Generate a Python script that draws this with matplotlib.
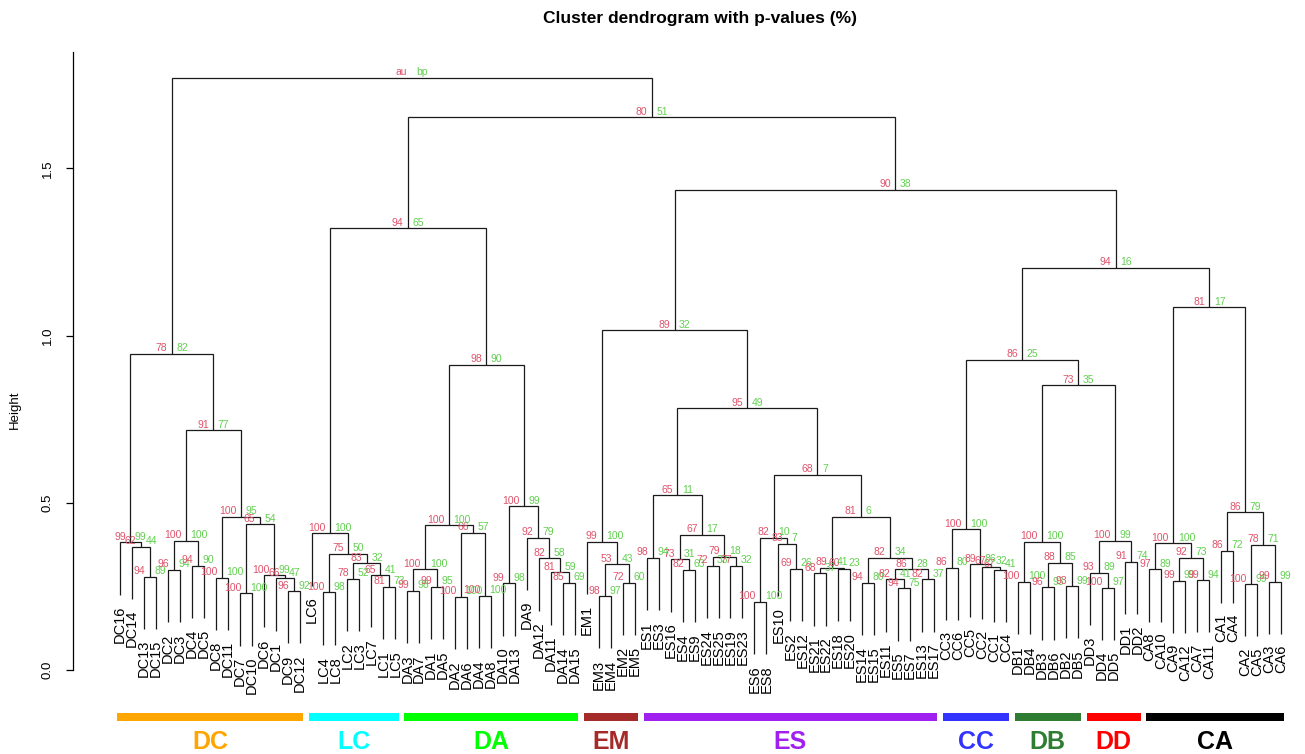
import matplotlib
matplotlib.use("Agg")
import matplotlib.pyplot as plt
from matplotlib import font_manager
from matplotlib.patches import Rectangle

# ---------------- data ----------------
# (node id, left child, right child, height, AU p-value, BP value)
DC_NODES = [
    ("dc1", "DC13", "DC15", 0.279, 94, 89),
    ("dc2", "DC14", "dc1", 0.369, 62, 44),
    ("dc3", "DC16", "dc2", 0.382, 99, 99),
    ("dc4", "DC2", "DC3", 0.299, 96, 94),
    ("dc5", "DC4", "DC5", 0.312, 94, 90),
    ("dc6", "dc4", "dc5", 0.387, 100, 100),
    ("dc7", "DC8", "DC11", 0.276, 100, 100),
    ("dc8", "DC7", "DC10", 0.229, 100, 100),
    ("dc9", "DC9", "DC12", 0.236, 96, 92),
    ("dc10", "DC1", "dc9", 0.274, 66, 47),
    ("dc11", "DC6", "dc10", 0.284, 100, 99),
    ("dc12", "dc8", "dc11", 0.435, 65, 54),
    ("dc13", "dc7", "dc12", 0.458, 100, 95),
    ("dc14", "dc6", "dc13", 0.717, 91, 77),
    ("dc15", "dc3", "dc14", 0.945, 78, 82),
]
LC_NODES = [
    ("lc1", "LC4", "LC8", 0.232, 100, 98),
    ("lc2", "LC1", "LC5", 0.249, 81, 73),
    ("lc3", "LC7", "lc2", 0.284, 65, 41),
    ("lc4", "LC2", "LC3", 0.273, 78, 52),
    ("lc5", "lc4", "lc3", 0.319, 83, 32),
    ("lc6", "lc1", "lc5", 0.347, 75, 50),
    ("lc7", "LC6", "lc6", 0.409, 100, 100),
]
DA_NODES = [
    ("da1", "DA3", "DA7", 0.237, 99, 98),
    ("da2", "DA1", "DA5", 0.249, 99, 95),
    ("da3", "da1", "da2", 0.301, 100, 100),
    ("da4", "DA2", "DA6", 0.219, 100, 100),
    ("da5", "DA4", "DA8", 0.222, 100, 100),
    ("da6", "da4", "da5", 0.411, 66, 57),
    ("da7", "da3", "da6", 0.433, 100, 100),
    ("da8", "DA10", "DA13", 0.259, 99, 98),
    ("da9", "DA14", "DA15", 0.261, 85, 69),
    ("da10", "DA11", "da9", 0.292, 81, 59),
    ("da11", "DA12", "da10", 0.334, 82, 58),
    ("da12", "DA9", "da11", 0.396, 92, 79),
    ("da13", "da8", "da12", 0.490, 100, 99),
    ("da14", "da7", "da13", 0.912, 98, 90),
]
EM_NODES = [
    ("em1", "EM3", "EM4", 0.221, 98, 97),
    ("em2", "EM2", "EM5", 0.261, 72, 60),
    ("em3", "em1", "em2", 0.316, 53, 43),
    ("em4", "EM1", "em3", 0.384, 99, 100),
]
ES_NODES = [
    ("es1", "ES1", "ES3", 0.336, 98, 94),
    ("es2", "ES4", "ES9", 0.299, 82, 63),
    ("es3", "ES16", "es2", 0.331, 73, 31),
    ("es4", "ES24", "ES25", 0.311, 72, 33),
    ("es5", "ES19", "ES23", 0.311, 77, 32),
    ("es6", "es4", "es5", 0.339, 79, 18),
    ("es7", "es3", "es6", 0.404, 67, 17),
    ("es8", "es1", "es7", 0.523, 65, 11),
    ("es9", "ES6", "ES8", 0.204, 100, 100),
    ("es10", "ES2", "ES12", 0.302, 69, 26),
    ("es11", "ES10", "es10", 0.378, 83, 7),
    ("es12", "es9", "es11", 0.396, 82, 10),
    ("es13", "ES21", "ES22", 0.289, 68, 37),
    ("es14", "ES18", "ES20", 0.302, 60, 23),
    ("es15", "es13", "es14", 0.306, 89, 41),
    ("es16", "ES14", "ES15", 0.261, 94, 80),
    ("es17", "ES5", "ES7", 0.244, 94, 75),
    ("es18", "ES11", "es17", 0.271, 82, 41),
    ("es19", "ES13", "ES17", 0.271, 82, 37),
    ("es20", "es18", "es19", 0.301, 86, 28),
    ("es21", "es16", "es20", 0.336, 82, 34),
    ("es22", "es15", "es21", 0.458, 81, 6),
    ("es23", "es12", "es22", 0.583, 68, 7),
    ("es24", "es8", "es23", 0.783, 95, 49),
]
CC_NODES = [
    ("cc1", "CC3", "CC6", 0.306, 86, 80),
    ("cc2", "CC1", "CC4", 0.299, 67, 41),
    ("cc3", "CC2", "cc2", 0.309, 67, 32),
    ("cc4", "CC5", "cc3", 0.316, 89, 86),
    ("cc5", "cc1", "cc4", 0.421, 100, 100),
]
DB_NODES = [
    ("db1", "DB1", "DB4", 0.264, 100, 100),
    ("db2", "DB3", "DB6", 0.247, 96, 93),
    ("db3", "DB2", "DB5", 0.251, 93, 99),
    ("db4", "db2", "db3", 0.321, 88, 85),
    ("db5", "db1", "db4", 0.384, 100, 100),
]
DD_NODES = [
    ("dd1", "DD4", "DD5", 0.246, 100, 97),
    ("dd2", "DD3", "dd1", 0.291, 93, 89),
    ("dd3", "DD1", "DD2", 0.324, 91, 74),
    ("dd4", "dd2", "dd3", 0.387, 100, 99),
]
CA_NODES = [
    ("ca1", "CA8", "CA10", 0.301, 97, 89),
    ("ca2", "CA9", "CA12", 0.267, 99, 99),
    ("ca3", "CA7", "CA11", 0.269, 99, 94),
    ("ca4", "ca2", "ca3", 0.336, 92, 73),
    ("ca5", "ca1", "ca4", 0.379, 100, 100),
    ("ca6", "CA1", "CA4", 0.357, 86, 72),
    ("ca7", "CA2", "CA5", 0.257, 100, 99),
    ("ca8", "CA3", "CA6", 0.264, 99, 99),
    ("ca9", "ca7", "ca8", 0.374, 78, 71),
    ("ca10", "ca6", "ca9", 0.471, 86, 79),
    ("ca11", "ca5", "ca10", 1.085, 81, 17),
]
TOP_NODES = [
    ("t1", "lc7", "da14", 1.321, 94, 65),
    ("t2", "em4", "es24", 1.016, 89, 32),
    ("t3", "db5", "dd4", 0.852, 73, 35),
    ("t4", "cc5", "t3", 0.927, 86, 25),
    ("t5", "t4", "ca11", 1.202, 94, 16),
    ("t6", "t2", "t5", 1.435, 90, 38),
    ("t7", "t1", "t6", 1.653, 80, 51),
    ("root", "dc15", "t7", 1.770, "au", "bp"),
]

GROUPS = ["DC", "LC", "DA", "EM", "ES", "CC", "DB", "DD", "CA"]
GROUP_COLORS = ["#FFA500", "#00FFFF", "#00FF00", "#A52A2A", "#A020F0",
                "#3333FF", "#2E7D32", "#FF0000", "#000000"]

TITLE = "Cluster dendrogram with p-values (%)"
YTICKS = [0.0, 0.5, 1.0, 1.5]
YTICK_LABELS = ["0.0", "0.5", "1.0", "1.5"]

# ---------------- fonts ----------------
names = {f.name for f in font_manager.fontManager.ttflist}
base_font = "Liberation Sans" if "Liberation Sans" in names else "DejaVu Sans"
narrow_font = None
for cand in ["Liberation Sans Narrow", "DejaVu Sans Condensed"]:
    if cand in names:
        narrow_font = cand
        break
plt.rcParams["font.family"] = [base_font, "DejaVu Sans"]

AU_COL = "#DF536B"
BP_COL = "#61D04F"
EDGE_COL = "#1a1a1a"

# ---------------- build tree ----------------
nodes = {}
for tbl in [DC_NODES, LC_NODES, DA_NODES, EM_NODES, ES_NODES, CC_NODES,
            DB_NODES, DD_NODES, CA_NODES, TOP_NODES]:
    for nid, a, b, h, au, bp in tbl:
        nodes[nid] = (a, b, h, au, bp)

order = []


def walk(n):
    if n in nodes:
        walk(nodes[n][0])
        walk(nodes[n][1])
    else:
        order.append(n)


walk("root")
leaf_x = {leaf: i for i, leaf in enumerate(order)}
xcache = {}


def getx(n):
    if n in leaf_x:
        return leaf_x[n]
    if n not in xcache:
        xcache[n] = (getx(nodes[n][0]) + getx(nodes[n][1])) / 2.0
    return xcache[n]


hvals = [v[2] for v in nodes.values()]
hang = 0.1 * (max(hvals) - min(hvals))

# ---------------- figure / axes geometry (pixels) ----------------
W, H = 1305, 754
PX_LEAF0, PX_STEP = 120.0, 11.97
PX_Y0, PX_PER_UNIT = 670.0, 334.5
AX_LEFT_PX, AX_TOP_PX = 73.0, 52.0

fig = plt.figure(figsize=(W / 100, H / 100), dpi=100)
ax = fig.add_axes([AX_LEFT_PX / W, 0.0, (W - AX_LEFT_PX) / W, (H - AX_TOP_PX) / H])
x_lo = (AX_LEFT_PX - PX_LEAF0) / PX_STEP
x_hi = (W - PX_LEAF0) / PX_STEP
y_lo = (PX_Y0 - H) / PX_PER_UNIT
y_hi = (PX_Y0 - AX_TOP_PX) / PX_PER_UNIT
ax.set_xlim(x_lo, x_hi)
ax.set_ylim(y_lo, y_hi)

px_x = 1.0 / PX_STEP      # one pixel in x data units
px_y = 1.0 / PX_PER_UNIT  # one pixel in y data units

for nid, (a, b, h, au, bp) in nodes.items():
    xa, xb = getx(a), getx(b)
    ya = nodes[a][2] if a in nodes else h - hang
    yb = nodes[b][2] if b in nodes else h - hang
    ax.plot([xa, xa, xb, xb], [ya, h, h, yb], color=EDGE_COL, lw=0.9,
            solid_capstyle="butt", solid_joinstyle="miter", clip_on=False)
    for child, xc, yc in [(a, xa, ya), (b, xb, yb)]:
        if child not in nodes:
            ax.text(xc, yc - 11 * px_y, child, rotation=90, ha="center", va="top",
                    fontsize=10.5, color="black", clip_on=False)
    xm = (xa + xb) / 2.0
    ax.text(xm - 4.5 * px_x, h + 2.5 * px_y, str(au), ha="right", va="baseline",
            fontsize=7.5, color=AU_COL)
    ax.text(xm + 4.5 * px_x, h + 2.5 * px_y, str(bp), ha="left", va="baseline",
            fontsize=7.5, color=BP_COL)

# ---------------- group bars and labels ----------------
bar_y = (PX_Y0 - 721) / PX_PER_UNIT
bar_h = 8 * px_y
lab_y = (PX_Y0 - 742) / PX_PER_UNIT
for g, col in zip(GROUPS, GROUP_COLORS):
    idx = [leaf_x[l] for l in order if l.startswith(g)]
    x0, x1 = min(idx) - 0.25, max(idx) + 0.28
    ax.add_patch(Rectangle((x0, bar_y), x1 - x0, bar_h, facecolor=col,
                           edgecolor="none", clip_on=False))
    if narrow_font:
        ax.text((x0 + x1) / 2, lab_y, g, ha="center", va="center", fontsize=21,
                fontweight="bold", color=col, family=[narrow_font, "DejaVu Sans"])
    else:
        ax.text((x0 + x1) / 2, lab_y, g, ha="center", va="center", fontsize=18,
                fontweight="bold", color=col)

# ---------------- axes styling ----------------
for s in ["top", "right", "bottom"]:
    ax.spines[s].set_visible(False)
ax.spines["left"].set_bounds(0, y_hi)
ax.spines["left"].set_linewidth(0.9)
ax.set_xticks([])
ax.set_yticks(YTICKS)
ax.set_yticklabels(YTICK_LABELS, rotation=90, va="center", fontsize=9.5)
ax.tick_params(axis="y", length=5, width=0.9, pad=9)

fig.text(15 / W, 1 - 410 / H, "Height", rotation=90, ha="center", va="center",
         fontsize=9.5)
fig.text(700 / W, 1 - 18 / H, TITLE, ha="center", va="center", fontsize=12.5,
         fontweight="bold")

fig.savefig("out.png", dpi=100)
